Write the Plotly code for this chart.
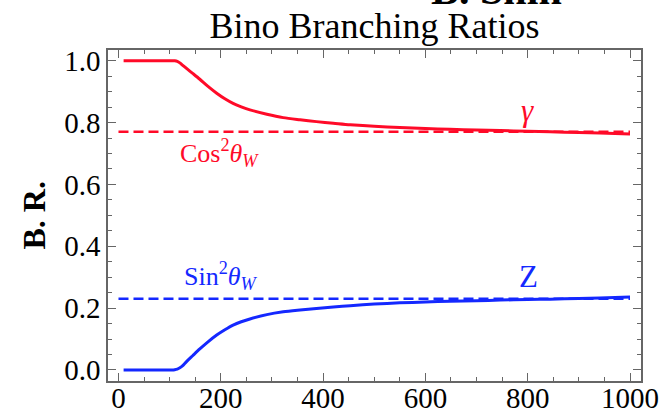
import plotly.graph_objects as go

# Bino mass (GeV) sample points
mass = [10, 50, 100, 105, 110, 115, 120, 125, 133, 145, 159, 175, 192, 208, 224, 240, 257,
        290, 322, 355, 387, 420, 453, 500, 550, 600, 648, 700, 746, 800, 844, 900, 941, 1000]
br_gamma = [1.0, 1.0, 1.0, 1.0, 1.0, 0.998, 0.993, 0.986, 0.975, 0.959, 0.940, 0.917, 0.895, 0.877,
            0.862, 0.851, 0.841, 0.827, 0.816, 0.809, 0.803, 0.798, 0.793, 0.788, 0.784, 0.781, 0.778,
            0.776, 0.774, 0.772, 0.770, 0.768, 0.766, 0.763]
br_z = [0.0, 0.0, 0.0, 0.0, 0.001, 0.003, 0.007, 0.013, 0.027, 0.046, 0.068, 0.091, 0.113, 0.130,
        0.145, 0.156, 0.165, 0.179, 0.188, 0.194, 0.199, 0.204, 0.208, 0.213, 0.217, 0.220, 0.222,
        0.224, 0.226, 0.228, 0.229, 0.231, 0.233, 0.236]
ref_x = [0, 1000]
cos2_w = 0.77
sin2_w = 0.23

RED = "rgb(255,10,40)"
BLUE = "rgb(20,40,255)"
SERIF = "Liberation Serif"

fig = go.Figure()
fig.add_trace(go.Scatter(x=ref_x, y=[cos2_w] * len(ref_x), mode="lines",
                         line=dict(color=RED, width=2.5, dash="10px,5px"), hoverinfo="skip"))
fig.add_trace(go.Scatter(x=ref_x, y=[sin2_w] * len(ref_x), mode="lines",
                         line=dict(color=BLUE, width=2.5, dash="10px,5px"), hoverinfo="skip"))
fig.add_trace(go.Scatter(x=mass, y=br_gamma, mode="lines",
                         line=dict(color=RED, width=3, shape="spline", smoothing=0.8)))
fig.add_trace(go.Scatter(x=mass, y=br_z, mode="lines",
                         line=dict(color=BLUE, width=3, shape="spline", smoothing=0.8)))

axis_common = dict(
    showline=True, linecolor="#666666", linewidth=1.5, mirror="allticks",
    ticks="inside", tickcolor="#666666", tickwidth=1.2, ticklen=8,
    showgrid=False, zeroline=False, automargin=False,
    tickfont=dict(family=SERIF, size=29, color="black"),
)

fig.update_xaxes(range=[-20.5, 1021.5], dtick=200, tick0=0, ticklabelstandoff=-10,
                 minor=dict(dtick=50, ticks="inside", ticklen=4, tickcolor="#666666", tickwidth=1.2),
                 **axis_common)
fig.update_yaxes(range=[-0.0356, 1.0346], dtick=0.2, tick0=0, tickformat=".1f",
                 minor=dict(dtick=0.05, ticks="inside", ticklen=4, tickcolor="#666666", tickwidth=1.2),
                 **axis_common)

annotations = [
    dict(text="Cos<sup>2</sup><i>θ</i><sub><i>W</i></sub>", x=198, y=0.70, xref="x", yref="y",
         showarrow=False, font=dict(family=SERIF, size=26, color=RED), xanchor="center", yanchor="middle"),
    dict(text="Sin<sup>2</sup><i>θ</i><sub><i>W</i></sub>", x=200, y=0.305, xref="x", yref="y",
         showarrow=False, font=dict(family=SERIF, size=26, color=BLUE), xanchor="center", yanchor="middle"),
    dict(text="<i>γ</i>", x=799, y=0.84, xref="x", yref="y",
         showarrow=False, font=dict(family=SERIF, size=31, color=RED), xanchor="center", yanchor="middle"),
    dict(text="Z", x=801, y=0.302, xref="x", yref="y",
         showarrow=False, font=dict(family=SERIF, size=31, color=BLUE), xanchor="center", yanchor="middle"),
    dict(text="<b>B. R.</b>", x=-0.1407, y=0.5, xref="paper", yref="paper", textangle=-90,
         showarrow=False, font=dict(family=SERIF, size=32, color="black"), xanchor="center", yanchor="middle"),
    dict(text="<b>B. Shih</b>", x=0.728, y=1.18, xref="paper", yref="paper",
         showarrow=False, font=dict(family=SERIF, size=42, color="black"), xanchor="center", yanchor="middle"),
]

fig.update_layout(
    width=664, height=419,
    margin=dict(l=108, r=23, t=50, b=38),
    paper_bgcolor="white", plot_bgcolor="white",
    showlegend=False,
    title=dict(text="Bino Branching Ratios", x=0.5, xref="paper", xanchor="center",
               y=1 - 25 / 419, yref="container", yanchor="middle",
               font=dict(family=SERIF, size=36, color="black")),
    annotations=annotations,
)

fig.write_html("out.html")
